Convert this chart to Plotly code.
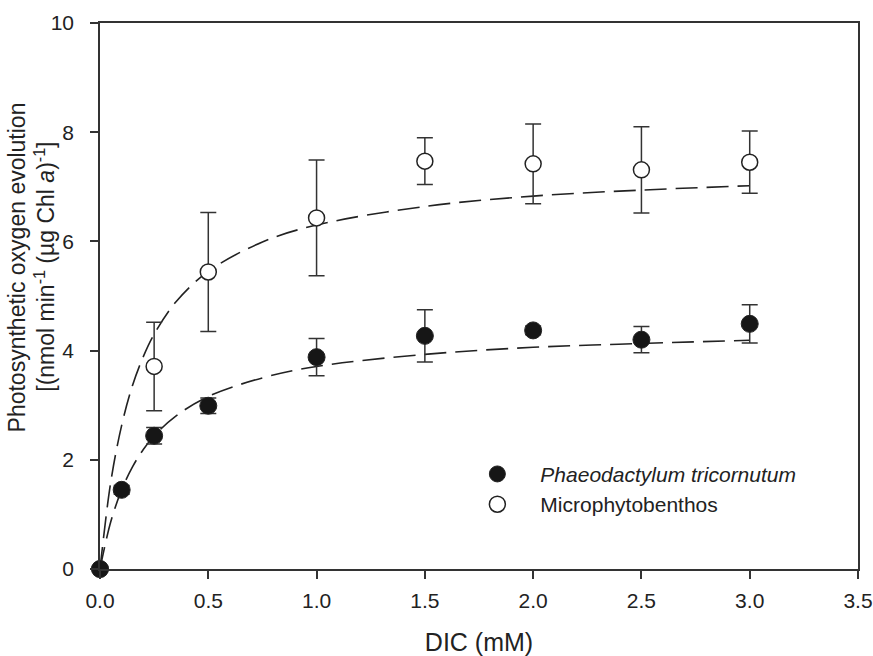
import plotly.graph_objects as go

# Measured data
dic_pt = [0.0, 0.1, 0.25, 0.5, 1.0, 1.5, 2.0, 2.5, 3.0]
pt_mean = [0.0, 1.45, 2.44, 2.99, 3.88, 4.27, 4.37, 4.20, 4.49]
pt_err = [0.0, 0.08, 0.15, 0.14, 0.34, 0.48, 0.08, 0.24, 0.35]

dic_mpb = [0.0, 0.25, 0.5, 1.0, 1.5, 2.0, 2.5, 3.0]
mpb_mean = [0.0, 3.71, 5.44, 6.43, 7.47, 7.42, 7.31, 7.45]
mpb_err = [0.0, 0.81, 1.09, 1.06, 0.43, 0.73, 0.79, 0.57]

# Fitted curves
fit_x = [0.0, 0.05, 0.1, 0.15, 0.2, 0.25, 0.35, 0.5, 0.75, 1.0, 1.5, 2.0, 2.5, 3.0]
fit_pt = [0.0, 0.87, 1.45, 1.87, 2.19, 2.44, 2.80, 3.16, 3.50, 3.71, 3.93, 4.06, 4.13, 4.19]
fit_mpb = [0.0, 1.60, 2.63, 3.36, 3.89, 4.30, 4.89, 5.45, 5.99, 6.30, 6.64, 6.83, 6.94, 7.02]

x_ticks = [0.0, 0.5, 1.0, 1.5, 2.0, 2.5, 3.0, 3.5]
y_ticks = [0, 2, 4, 6, 8, 10]

y_title_1 = "Photosynthetic oxygen evolution"
y_title_2 = "[(nmol min<sup>-1</sup> (µg Chl <i>a</i>)<sup>-1</sup>]"

INK = "#222222"
FONT = "Liberation Sans, Arial, sans-serif"

fig = go.Figure()

for fy in (fit_mpb, fit_pt):
    fig.add_trace(go.Scatter(
        x=fit_x, y=fy, mode="lines", line=dict(color=INK, width=1.6, dash="22px,9px", shape="spline"),
        showlegend=False, hoverinfo="skip", cliponaxis=False))

fig.add_trace(go.Scatter(
    x=dic_mpb, y=mpb_mean, mode="markers", name="Microphytobenthos",
    marker=dict(symbol="circle", size=16, color="white", line=dict(color=INK, width=1.5)),
    error_y=dict(type="data", array=mpb_err, color="#333333", thickness=1.5, width=8),
    showlegend=False, cliponaxis=False))

fig.add_trace(go.Scatter(
    x=dic_pt, y=pt_mean, mode="markers", name="<i>Phaeodactylum tricornutum</i>",
    marker=dict(symbol="circle", size=17, color="#161616", line=dict(color=INK, width=1)),
    error_y=dict(type="data", array=pt_err, color="#333333", thickness=1.5, width=8),
    showlegend=False, cliponaxis=False))

# legend entries (marker only)
fig.add_trace(go.Scatter(
    x=[None], y=[None], mode="markers", name="<i>Phaeodactylum tricornutum</i>",
    marker=dict(symbol="circle", size=16, color="#161616", line=dict(color=INK, width=1))))
fig.add_trace(go.Scatter(
    x=[None], y=[None], mode="markers", name="Microphytobenthos",
    marker=dict(symbol="circle", size=16, color="white", line=dict(color=INK, width=1.5))))

axis_common = dict(
    showgrid=False, zeroline=False, showline=True, linecolor="#333333", linewidth=1.5,
    mirror=True, ticks="outside", ticklen=8, tickwidth=1.5, tickcolor="#333333",
    tickfont=dict(family=FONT, size=21, color=INK), automargin=False,
)

fig.update_layout(
    width=873, height=656,
    margin=dict(l=100, r=15, t=23, b=87),
    paper_bgcolor="white", plot_bgcolor="white",
    font=dict(family=FONT, size=21, color=INK),
    xaxis=dict(range=[0, 3.5], tickvals=x_ticks, ticktext=[f"{v:.1f}" for v in x_ticks],
               ticklabelstandoff=4,
               title=dict(text="DIC (mM)", font=dict(size=25), standoff=26), **axis_common),
    yaxis=dict(range=[0, 10], tickvals=y_ticks, ticklabelstandoff=12, **axis_common),
    legend=dict(x=0.4675, y=0.211, xanchor="left", yanchor="top", bgcolor="rgba(0,0,0,0)",
                font=dict(family=FONT, size=21, color=INK), tracegroupgap=0, itemwidth=76),
    showlegend=True,
    annotations=[
        dict(text=y_title_1, textangle=-90, xref="paper", yref="paper",
             x=-0.109, y=0.553, xanchor="center", yanchor="middle", showarrow=False,
             font=dict(family=FONT, size=23, color=INK)),
        dict(text=y_title_2, textangle=-90, xref="paper", yref="paper",
             x=-0.073, y=0.553, xanchor="center", yanchor="middle", showarrow=False,
             font=dict(family=FONT, size=23, color=INK)),
    ],
)

fig.write_html("out.html")
